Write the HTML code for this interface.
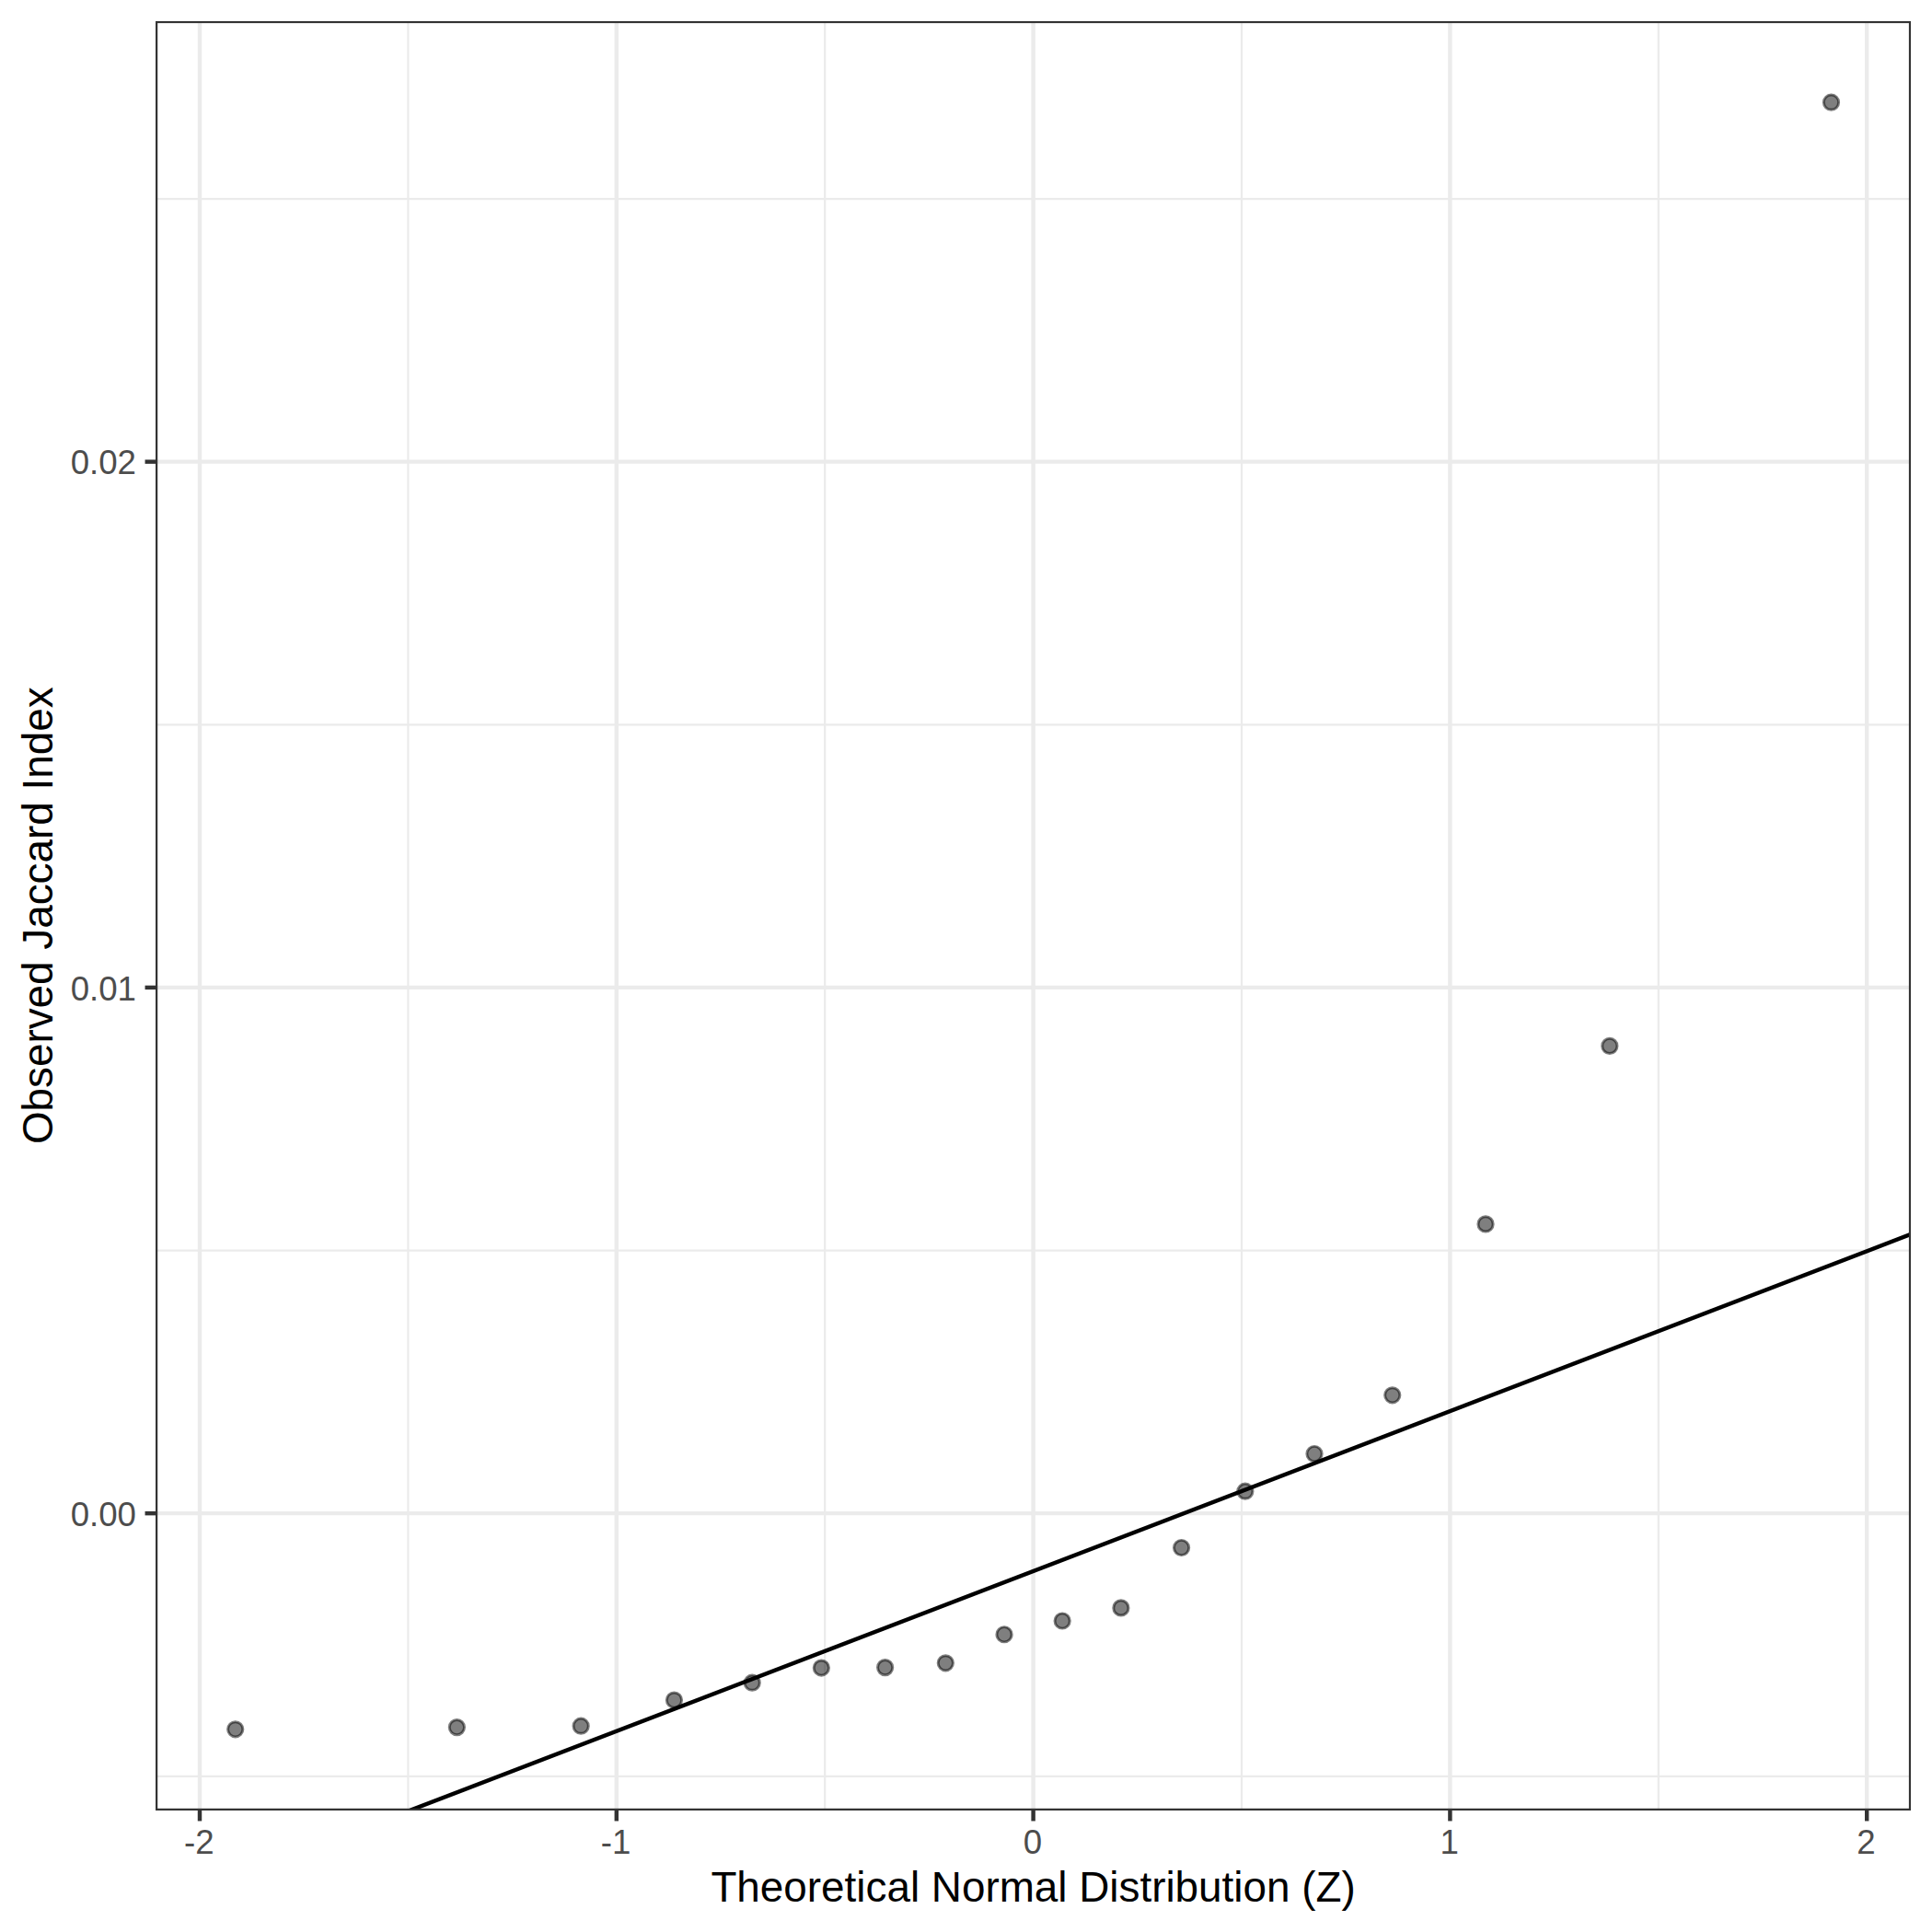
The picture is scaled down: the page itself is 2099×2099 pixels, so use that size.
<!DOCTYPE html>
<html lang="en"><head><meta charset="utf-8"><title>Normal Q-Q plot of observed Jaccard index</title>
<style>html,body{margin:0;padding:0;background:#fff}body{width:2099px;height:2099px;overflow:hidden}svg{display:block}text{font-family:"Liberation Sans",sans-serif}</style></head><body>
<svg width="2099" height="2099" viewBox="0 0 2099 2099">
<rect x="0" y="0" width="2099" height="2099" fill="#ffffff"/>
<defs><clipPath id="panel"><rect x="169.00" y="22.90" width="1907.10" height="1944.10"/></clipPath></defs>
<g clip-path="url(#panel)">
<g stroke="#ebebeb" stroke-width="2.22" fill="none">
<line x1="169.00" x2="2076.10" y1="216.03" y2="216.03"/>
<line x1="169.00" x2="2076.10" y1="787.28" y2="787.28"/>
<line x1="169.00" x2="2076.10" y1="1358.53" y2="1358.53"/>
<line x1="169.00" x2="2076.10" y1="1929.78" y2="1929.78"/>
<line x1="443.40" x2="443.40" y1="22.90" y2="1967.00"/>
<line x1="896.20" x2="896.20" y1="22.90" y2="1967.00"/>
<line x1="1349.00" x2="1349.00" y1="22.90" y2="1967.00"/>
<line x1="1801.80" x2="1801.80" y1="22.90" y2="1967.00"/>
</g>
<g stroke="#ebebeb" stroke-width="4.44" fill="none">
<line x1="169.00" x2="2076.10" y1="1644.15" y2="1644.15"/>
<line x1="169.00" x2="2076.10" y1="1072.90" y2="1072.90"/>
<line x1="169.00" x2="2076.10" y1="501.65" y2="501.65"/>
<line x1="217.00" x2="217.00" y1="22.90" y2="1967.00"/>
<line x1="669.80" x2="669.80" y1="22.90" y2="1967.00"/>
<line x1="1122.60" x2="1122.60" y1="22.90" y2="1967.00"/>
<line x1="1575.40" x2="1575.40" y1="22.90" y2="1967.00"/>
<line x1="2028.20" x2="2028.20" y1="22.90" y2="1967.00"/>
</g>
<g fill="#000000" fill-opacity="0.5" stroke="#000000" stroke-opacity="0.5" stroke-width="2.95">
<circle cx="255.71" cy="1878.80" r="8.14"/>
<circle cx="496.38" cy="1876.60" r="8.14"/>
<circle cx="631.16" cy="1875.20" r="8.14"/>
<circle cx="732.45" cy="1847.05" r="8.14"/>
<circle cx="817.19" cy="1828.20" r="8.14"/>
<circle cx="892.36" cy="1812.05" r="8.14"/>
<circle cx="961.63" cy="1811.60" r="8.14"/>
<circle cx="1027.32" cy="1806.80" r="8.14"/>
<circle cx="1091.05" cy="1775.75" r="8.14"/>
<circle cx="1154.15" cy="1761.00" r="8.14"/>
<circle cx="1217.88" cy="1746.90" r="8.14"/>
<circle cx="1283.57" cy="1681.50" r="8.14"/>
<circle cx="1352.84" cy="1620.20" r="8.14"/>
<circle cx="1428.01" cy="1579.50" r="8.14"/>
<circle cx="1512.75" cy="1515.80" r="8.14"/>
<circle cx="1614.04" cy="1329.90" r="8.14"/>
<circle cx="1748.82" cy="1136.40" r="8.14"/>
<circle cx="1989.49" cy="111.20" r="8.14"/>
</g>
<line x1="149.00" y1="2080.65" x2="2096.10" y2="1333.24" stroke="#000000" stroke-width="4.44"/>
<rect x="169.00" y="22.90" width="1907.10" height="1944.10" fill="none" stroke="#333333" stroke-width="4.44"/>
</g>
<g stroke="#333333" stroke-width="4.44" fill="none">
<line x1="217.00" x2="217.00" y1="1967.00" y2="1978.46"/>
<line x1="669.80" x2="669.80" y1="1967.00" y2="1978.46"/>
<line x1="1122.60" x2="1122.60" y1="1967.00" y2="1978.46"/>
<line x1="1575.40" x2="1575.40" y1="1967.00" y2="1978.46"/>
<line x1="2028.20" x2="2028.20" y1="1967.00" y2="1978.46"/>
<line x1="157.54" x2="169.00" y1="1644.15" y2="1644.15"/>
<line x1="157.54" x2="169.00" y1="1072.90" y2="1072.90"/>
<line x1="157.54" x2="169.00" y1="501.65" y2="501.65"/>
</g>
<g fill="#4d4d4d" font-size="36.67px">
<text x="216.30" y="2013.75" text-anchor="middle">-2</text>
<text x="669.10" y="2013.75" text-anchor="middle">-1</text>
<text x="1121.90" y="2013.75" text-anchor="middle">0</text>
<text x="1574.70" y="2013.75" text-anchor="middle">1</text>
<text x="2027.50" y="2013.75" text-anchor="middle">2</text>
<text x="148.00" y="1657.90" text-anchor="end">0.00</text>
<text x="148.00" y="1086.65" text-anchor="end">0.01</text>
<text x="148.00" y="515.40" text-anchor="end">0.02</text>
</g>
<g fill="#000000" font-size="45.83px">
<text x="1122.55" y="2066.20" text-anchor="middle">Theoretical Normal Distribution (Z)</text>
<text transform="translate(56.60,994.75) rotate(-90)" text-anchor="middle">Observed Jaccard Index</text>
</g>
</svg></body></html>
